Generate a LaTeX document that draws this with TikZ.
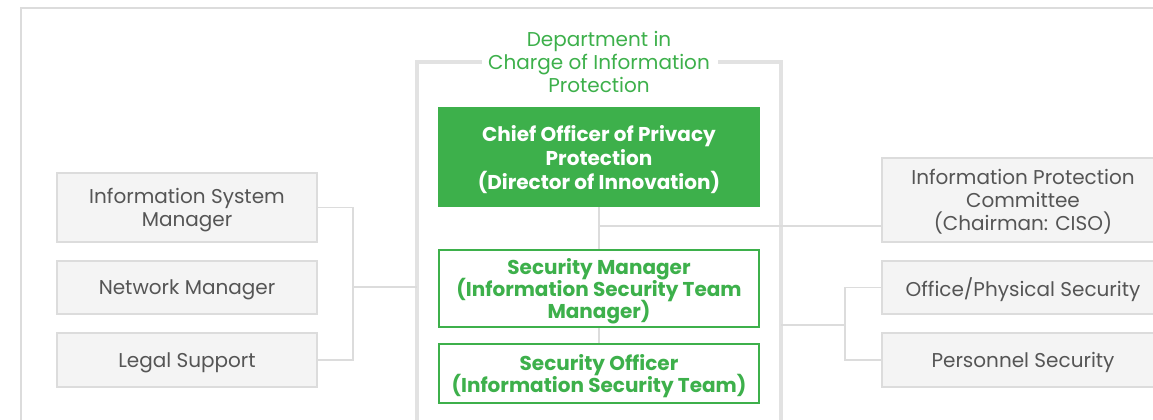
\documentclass[tikz,border=0pt]{standalone}
\usepackage{fontspec}
\setmainfont{Poppins}
\usetikzlibrary{positioning}
\definecolor{orggreen}{RGB}{61,176,75}
\definecolor{boxgray}{RGB}{244,244,244}
\definecolor{edgegray}{RGB}{220,220,220}
\definecolor{framegray}{RGB}{226,226,226}
\definecolor{textgray}{RGB}{85,85,85}
\newcommand\tightlines{\lineskiplimit=-20pt\relax}

\begin{document}
\begin{tikzpicture}[x=0.75pt, y=-0.75pt, font=\fontsize{15}{17.25}\selectfont\tightlines,
  sidebox/.style={draw=edgegray, fill=boxgray, text=textgray, align=center, inner sep=0pt, line width=0.8pt, minimum width=195pt, text depth=-3.5pt},
  unitbox/.style={draw=orggreen, fill=white, text=orggreen, font=\fontsize{15}{16.5}\selectfont\bfseries\tightlines, align=center, inner sep=0pt, line width=1.6pt, minimum width=240pt, text depth=-3pt},
  link/.style={draw=edgegray, line width=0.8pt},
  frame/.style={draw=framegray, line width=3.5pt}]
  \clip (0,0) rectangle (1153,419);
  \fill[white] (0,0) rectangle (1153,419);
  \draw[edgegray, line width=0.8pt] (21,440) -- (21,8) -- (1170,8);

  \node[text=orggreen, align=center] (dept) at (599,62) {Department in\\Charge of Information\\Protection};
  \draw[frame] (482,62) -- (417,62) coordinate (fl) -- (417,440);
  \draw[frame] (718,62) -- (781,62) coordinate (fr) -- (781,440);

  \node[fill=orggreen, text=white, font=\fontsize{15}{18}\selectfont\bfseries\tightlines, align=center, inner sep=0pt, minimum width=241.5pt, minimum height=75pt, text depth=-6pt] (chief) at (599,157) {Chief Officer of Privacy\\Protection\\(Director of Innovation)};
  \node[unitbox, minimum height=58pt] (secmgr) at (599,288.5) {Security Manager\\(Information Security Team\\Manager)};
  \node[unitbox, minimum height=44.5pt, text depth=0pt] (secoff) at (599,373.5) {Security Officer\\(Information Security Team)};

  \node[sidebox, minimum height=51.75pt, text depth=-6pt] (ism) at (187,207.5) {Information System\\Manager};
  \node[sidebox, minimum height=39.75pt] (netmgr) at (187,287.5) {Network Manager};
  \node[sidebox, minimum height=40.5pt] (legal) at (187,360) {Legal Support};

  \node[sidebox, minimum width=211.5pt, minimum height=63pt, text depth=-6pt] (ipc) at (1023,200) {Information Protection\\Committee\\(Chairman: CISO)};
  \node[sidebox, minimum width=211.5pt, minimum height=39.75pt] (physec) at (1023,287.5) {Office/Physical Security};
  \node[sidebox, minimum width=211.5pt, minimum height=40.5pt] (persec) at (1023,360) {Personnel Security};

  \coordinate (cj) at (599,226);
  \coordinate (lbar) at (353,287);
  \coordinate (rbar) at (845,325);
  \draw[link] (chief.south) -- (secmgr.north);
  \draw[link] (secmgr.south) -- (secoff.north);
  \draw[link] (cj) -- (cj -| ipc.west);
  \draw[link] (ism.east) -| (lbar) |- (legal.east);
  \draw[link] (lbar) -- (lbar -| fl);
  \draw[link] (physec.west) -| (rbar) |- (persec.west);
  \draw[link] (rbar) -- (rbar -| fr);
\end{tikzpicture}
\end{document}
